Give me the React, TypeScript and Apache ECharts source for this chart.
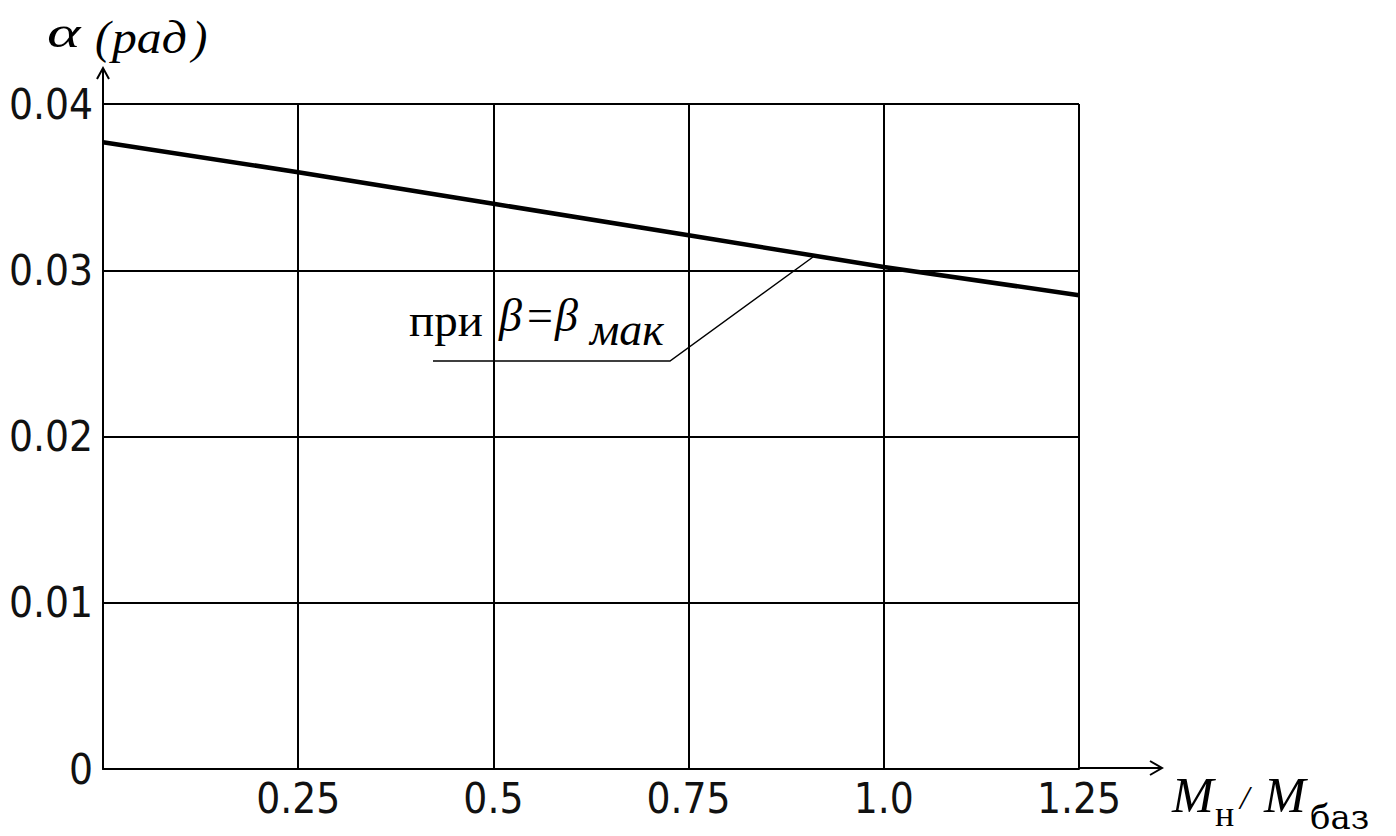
import React, { useEffect, useRef } from "react";
import * as echarts from "echarts";

const xValues = [0, 0.25, 0.5, 0.75, 1.0, 1.25];
const alphaValues = [0.0377, 0.0359, 0.034, 0.0321, 0.0302, 0.0285];
const xTickLabels = ["", "0.25", "0.5", "0.75", "1.0", "1.25"];
const yTickLabels = ["0", "0.01", "0.02", "0.03", "0.04"];

const TICK_FONT = '"Liberation Sans Narrow", "DejaVu Sans Condensed", sans-serif';
const SERIF = '"Liberation Serif", "DejaVu Serif", serif';
const DSERIF = '"DejaVu Serif", serif';

export default function App() {
  const ref = useRef<HTMLDivElement>(null);
  useEffect(() => {
    if (!ref.current) return;
    const chart = echarts.init(ref.current, undefined, { renderer: "svg" });
    const option: any = {
      animation: false,
      backgroundColor: "#ffffff",
      grid: { left: 103, right: 317, top: 104, bottom: 67, containLabel: false },
      xAxis: {
        type: "value",
        min: 0,
        max: 1.25,
        interval: 0.25,
        axisLine: { show: true, lineStyle: { color: "#000", width: 2 } },
        axisTick: { show: false },
        splitLine: { show: true, lineStyle: { color: "#000", width: 2 } },
        axisLabel: {
          color: "#111",
          fontFamily: TICK_FONT,
          fontSize: 42,
          margin: 8,
          formatter: (_v: number, i: number) => xTickLabels[i] ?? "",
        },
      },
      yAxis: {
        type: "value",
        min: 0,
        max: 0.04,
        interval: 0.01,
        axisLine: { show: true, lineStyle: { color: "#000", width: 2 } },
        axisTick: { show: false },
        splitLine: { show: true, lineStyle: { color: "#000", width: 2 } },
        axisLabel: {
          color: "#111",
          fontFamily: TICK_FONT,
          fontSize: 42,
          margin: 10,
          formatter: (_v: number, i: number) => yTickLabels[i] ?? "",
        },
      },
      series: [
        {
          type: "line",
          data: xValues.map((x, i) => [x, alphaValues[i]]),
          showSymbol: false,
          lineStyle: { color: "#000", width: 4.5 },
          z: 5,
        },
      ],
      graphic: [
        // axis extensions with arrows
        { type: "line", shape: { x1: 103, y1: 104, x2: 103, y2: 68 }, style: { stroke: "#000", lineWidth: 2 } },
        { type: "polyline", shape: { points: [[97, 79], [103, 68], [109, 79]] }, style: { stroke: "#000", lineWidth: 2, fill: null } },
        { type: "line", shape: { x1: 1079, y1: 768, x2: 1162, y2: 768 }, style: { stroke: "#000", lineWidth: 2 } },
        { type: "polyline", shape: { points: [[1150, 761], [1162, 768], [1150, 775]] }, style: { stroke: "#000", lineWidth: 2, fill: null } },
        // y axis title
        { type: "text", x: 47, y: 32, scaleX: 1.45, style: { text: "α", font: `italic 44px ${SERIF}`, fill: "#000", textVerticalAlign: "middle" } },
        { type: "text", x: 95, y: 37, style: { text: "(", font: `italic 46px ${SERIF}`, fill: "#000", textVerticalAlign: "middle" } },
        { type: "text", x: 112, y: 37, scaleX: 1.08, style: { text: "рад", font: `italic 46px ${SERIF}`, fill: "#000", textVerticalAlign: "middle" } },
        { type: "text", x: 192, y: 37, style: { text: ")", font: `italic 46px ${SERIF}`, fill: "#000", textVerticalAlign: "middle" } },
        // x axis title
        { type: "text", x: 1172, y: 820, style: { text: "M", font: `italic 50px ${SERIF}`, fill: "#000", textVerticalAlign: "bottom" } },
        { type: "text", x: 1215, y: 832, style: { text: "н", font: `36px ${SERIF}`, fill: "#000", textVerticalAlign: "bottom" } },
        { type: "text", x: 1240, y: 814, style: { text: "/", font: `italic 34px ${SERIF}`, fill: "#000", textVerticalAlign: "bottom" } },
        { type: "text", x: 1264, y: 820, style: { text: "M", font: `italic 50px ${SERIF}`, fill: "#000", textVerticalAlign: "bottom" } },
        { type: "text", x: 1310, y: 834, style: { text: "баз", font: `34px ${DSERIF}`, fill: "#000", textVerticalAlign: "bottom" } },
        // annotation
        { type: "text", x: 409, y: 343, style: { text: "при", font: `47px ${SERIF}`, fill: "#000", textVerticalAlign: "bottom" } },
        { type: "text", x: 499, y: 338, style: { text: "β", font: `italic 46px ${SERIF}`, fill: "#000", textVerticalAlign: "bottom" } },
        { type: "text", x: 527, y: 338, style: { text: "=", font: `46px ${SERIF}`, fill: "#000", textVerticalAlign: "bottom" } },
        { type: "text", x: 555, y: 338, style: { text: "β", font: `italic 46px ${SERIF}`, fill: "#000", textVerticalAlign: "bottom" } },
        { type: "text", x: 590, y: 352, style: { text: "мак", font: `italic 46px ${SERIF}`, fill: "#000", textVerticalAlign: "bottom" } },
        { type: "polyline", shape: { points: [[433, 361], [670, 361], [813, 257]] }, style: { stroke: "#000", lineWidth: 1.5, fill: null } },
      ],
    };
    chart.setOption(option);
    return () => chart.dispose();
  }, []);
  return (
    <div
      ref={ref}
      style={{ position: "absolute", left: 0, top: 0, width: 1396, height: 836, background: "#fff" }}
    />
  );
}
